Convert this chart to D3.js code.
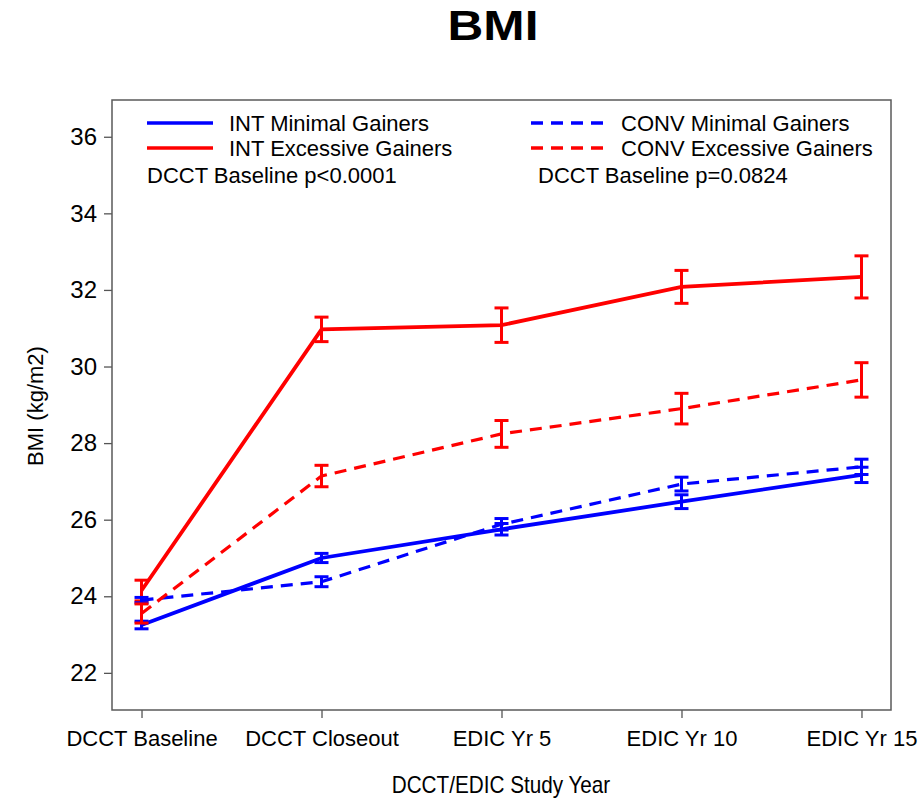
<!DOCTYPE html>
<html>
<head>
<meta charset="utf-8">
<script src="https://cdn.jsdelivr.net/npm/d3@7"></script>
<style>
  body { margin: 0; background: #fff; }
  text { font-family: "Liberation Sans", Arial, sans-serif; fill: #000; }
</style>
</head>
<body>
<svg id="chart" width="923" height="801"></svg>
<script>
// data
const years = ["DCCT Baseline", "DCCT Closeout", "EDIC Yr 5", "EDIC Yr 10", "EDIC Yr 15"];
const yTicks = [22, 24, 26, 28, 30, 32, 34, 36];

const intMinimal = [23.25, 25.0, 25.75, 26.47, 27.17];
const intMinimalErr = [0.1, 0.12, 0.15, 0.18, 0.2];
const intExcessive = [24.15, 30.97, 31.08, 32.08, 32.34];
const intExcessiveErr = [0.27, 0.32, 0.45, 0.43, 0.55];
const convMinimal = [23.9, 24.38, 25.88, 26.93, 27.38];
const convMinimalErr = [0.07, 0.13, 0.15, 0.18, 0.2];
const convExcessive = [23.55, 27.14, 28.24, 28.9, 29.65];
const convExcessiveErr = [0.25, 0.28, 0.35, 0.4, 0.45];

const seriesNames = ["INT Minimal Gainers", "INT Excessive Gainers", "CONV Minimal Gainers", "CONV Excessive Gainers"];
const pValues = ["DCCT Baseline p<0.0001", "DCCT Baseline p=0.0824"];

const series = [
  { name: seriesNames[0], values: intMinimal, err: intMinimalErr, color: "#0000ff", dash: null },
  { name: seriesNames[1], values: intExcessive, err: intExcessiveErr, color: "#ff0000", dash: null },
  { name: seriesNames[2], values: convMinimal, err: convMinimalErr, color: "#0000ff", dash: "12,8" },
  { name: seriesNames[3], values: convExcessive, err: convExcessiveErr, color: "#ff0000", dash: "12,8" }
];

const svg = d3.select("#chart");
const margin = { top: 100, right: 32, bottom: 91, left: 112 };
const width = 923 - margin.left - margin.right;
const height = 801 - margin.top - margin.bottom;

const g = svg.append("g")
    .attr("transform", `translate(${margin.left},${margin.top})`);

const x = d3.scalePoint().domain(years).range([0, width]).padding(0.164);
const y = d3.scaleLinear().domain([21.03, 36.96]).range([height, 0]);

// title
svg.append("text")
    .attr("transform", "translate(493,40) scale(1.18,1)")
    .attr("text-anchor", "middle")
    .attr("font-size", 42)
    .attr("font-weight", "bold")
    .text("BMI");

// axes
const yAxis = g.append("g")
    .call(d3.axisLeft(y).tickValues(yTicks).tickSize(8).tickPadding(7).tickFormat(d3.format("d")));
const xAxis = g.append("g")
    .attr("transform", `translate(0,${height})`)
    .call(d3.axisBottom(x).tickSize(8).tickPadding(12));
[yAxis, xAxis].forEach(a => {
  a.select(".domain").remove();
  a.selectAll(".tick line").attr("stroke", "#555").attr("stroke-width", 1.3);
});
yAxis.selectAll("text").attr("font-size", 24).attr("font-family", "Liberation Sans, Arial, sans-serif").attr("fill", "#222");
xAxis.selectAll("text").attr("font-size", 22).attr("font-family", "Liberation Sans, Arial, sans-serif").attr("fill", "#222");

// frame
g.append("rect")
    .attr("x", 0).attr("y", 0)
    .attr("width", width).attr("height", height)
    .attr("fill", "none")
    .attr("stroke", "#5a5a5a")
    .attr("stroke-width", 1.5);

// axis titles
svg.append("text")
    .attr("transform", "translate(501,793) scale(0.9,1)")
    .attr("text-anchor", "middle")
    .attr("font-size", 23)
    .attr("fill", "#222")
    .text("DCCT/EDIC Study Year");

svg.append("text")
    .attr("transform", "translate(43,406) rotate(-90)")
    .attr("text-anchor", "middle")
    .attr("font-size", 22)
    .attr("fill", "#222")
    .text("BMI (kg/m2)");

// lines
const line = d3.line()
    .x((d, i) => x(years[i]))
    .y(d => y(d));

series.forEach(s => {
  g.append("path")
      .datum(s.values)
      .attr("fill", "none")
      .attr("stroke", s.color)
      .attr("stroke-width", s.dash ? 3.2 : 3.8)
      .attr("stroke-dasharray", s.dash)
      .attr("d", line);

  const bars = g.append("g");
  s.values.forEach((v, i) => {
    const cx = x(years[i]);
    const lo = y(v - s.err[i]);
    const hi = y(v + s.err[i]);
    bars.append("line")
        .attr("x1", cx).attr("x2", cx)
        .attr("y1", lo).attr("y2", hi)
        .attr("stroke", s.color).attr("stroke-width", 3);
    [lo, hi].forEach(cy => {
      bars.append("line")
          .attr("x1", cx - 7).attr("x2", cx + 7)
          .attr("y1", cy).attr("y2", cy)
          .attr("stroke", s.color).attr("stroke-width", 3);
    });
  });
});

// legend
const legend = svg.append("g");
const legendPos = [
  { lx: 147, tx: 229, y: 123 },
  { lx: 147, tx: 229, y: 148 },
  { lx: 531, tx: 621, y: 123 },
  { lx: 531, tx: 621, y: 148 }
];
series.forEach((s, i) => {
  const p = legendPos[i];
  legend.append("line")
      .attr("x1", p.lx).attr("x2", p.lx + (s.dash ? 80 : 66))
      .attr("y1", p.y).attr("y2", p.y)
      .attr("stroke", s.color)
      .attr("stroke-width", 3.5)
      .attr("stroke-dasharray", s.dash ? "12,8" : null);
  legend.append("text")
      .attr("x", p.tx).attr("y", p.y)
      .attr("dy", "0.35em")
      .attr("font-size", 22)
      .text(s.name);
});
legend.append("text")
    .attr("x", 147).attr("y", 175).attr("dy", "0.35em")
    .attr("font-size", 22)
    .text(pValues[0]);
legend.append("text")
    .attr("x", 538).attr("y", 175).attr("dy", "0.35em")
    .attr("font-size", 22)
    .text(pValues[1]);
</script>
</body>
</html>
